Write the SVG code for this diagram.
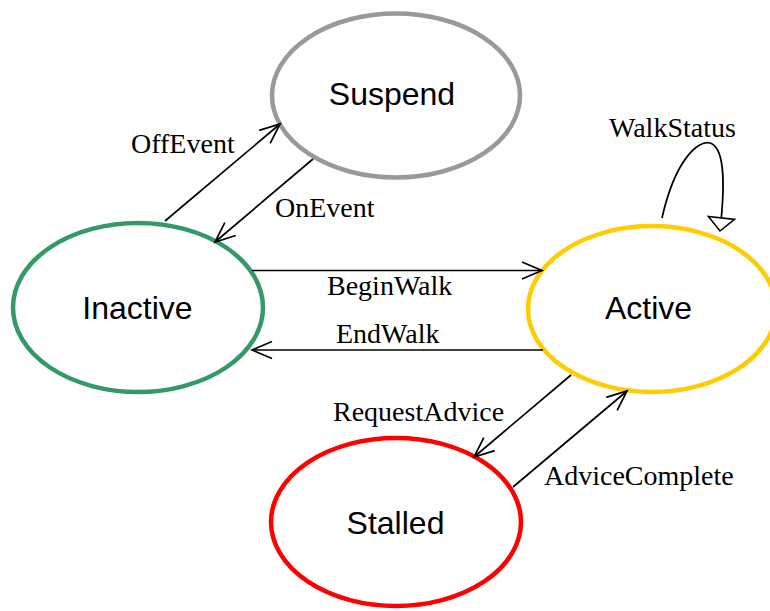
<svg xmlns="http://www.w3.org/2000/svg" width="770" height="611" viewBox="0 0 770 611">
<style>
.node{fill:#fff;stroke-width:4.5}
.nl{font-family:"Liberation Sans",Arial,sans-serif;font-size:32px;fill:#000;text-anchor:middle}
.el{font-family:"Liberation Serif","Times New Roman",serif;font-size:28px;fill:#000}
.c{fill:none;stroke:#000;stroke-width:1.7}
</style>
<defs>
<marker id="open" markerUnits="userSpaceOnUse" markerWidth="30" markerHeight="24" viewBox="-22 -12 26 24" refX="0" refY="0" orient="auto">
<path d="M-20,-8.5 L0,0 L-20,8.5" fill="none" stroke="#000" stroke-width="1.7"/>
</marker>
<marker id="tri" markerUnits="userSpaceOnUse" markerWidth="30" markerHeight="30" viewBox="-2 -16 18 32" refX="14" refY="0" orient="auto">
<path d="M0,-14 L14,0 L0,14 Z" fill="#fff" stroke="#000" stroke-width="1.7"/>
</marker>
</defs>
<rect width="770" height="611" fill="#fff"/>
<g id="suspend">
<ellipse class="node" cx="396" cy="95.5" rx="124" ry="82" stroke="#999999"/>
<text class="nl" x="392" y="105">Suspend</text>
</g>
<g id="inactive">
<ellipse class="node" cx="138" cy="307.5" rx="125" ry="84.5" stroke="#339966"/>
<text class="nl" x="137.5" y="319">Inactive</text>
</g>
<g id="active">
<ellipse class="node" cx="652" cy="309" rx="124" ry="83" stroke="#FFCC00"/>
<text class="nl" x="648.5" y="319">Active</text>
</g>
<g id="stalled">
<ellipse class="node" cx="396" cy="522" rx="125" ry="84" stroke="#FF0000"/>
<text class="nl" x="395.5" y="534">Stalled</text>
</g>
<g id="connectors">
<line class="c" x1="165" y1="221" x2="280" y2="124" marker-end="url(#open)"/>
<line class="c" x1="313" y1="159" x2="215" y2="242" marker-end="url(#open)"/>
<line class="c" x1="252" y1="270.5" x2="542" y2="270.5" marker-end="url(#open)"/>
<line class="c" x1="543" y1="350" x2="252" y2="350" marker-end="url(#open)"/>
<line class="c" x1="571" y1="375" x2="474" y2="457" marker-end="url(#open)"/>
<line class="c" x1="513" y1="487" x2="627" y2="391" marker-end="url(#open)"/>
<path class="c" d="M662,218 C675,160 698,140 710,143 C727,148 724,195 720,231" marker-end="url(#tri)"/>
<text class="el" x="131" y="153">OffEvent</text>
<text class="el" x="275" y="217">OnEvent</text>
<text class="el" x="327" y="295">BeginWalk</text>
<text class="el" x="336" y="343">EndWalk</text>
<text class="el" x="333" y="421">RequestAdvice</text>
<text class="el" x="544" y="485">AdviceComplete</text>
<text class="el" x="609" y="137">WalkStatus</text>
</g>
</svg>
